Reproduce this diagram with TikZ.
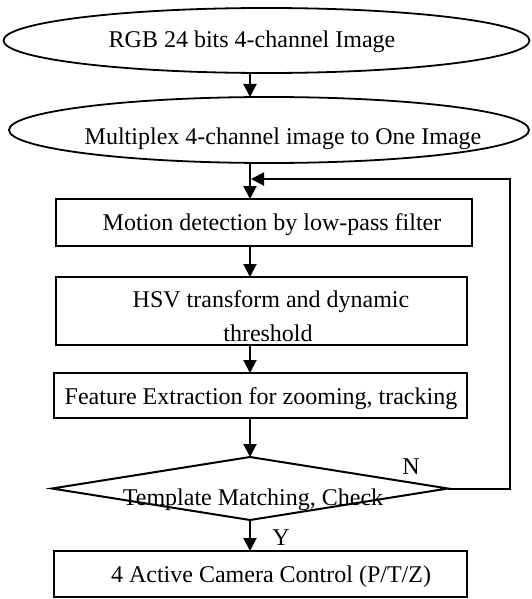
\documentclass[tikz,border=0pt]{standalone}
\usepackage{fontspec}
\setmainfont{Liberation Serif}
\usetikzlibrary{shapes.geometric,arrows.meta}
\begin{document}
\begin{tikzpicture}[x=1pt,y=-1pt,
  shapeline/.style={draw=black,line width=2pt,inner sep=0pt,outer sep=0pt},
  procbox/.style={shapeline,rectangle},
  oval/.style={draw=black,line width=1.8pt,ellipse,inner sep=0pt,outer sep=0pt},
  decision/.style={shapeline,diamond},
  txt/.style={anchor=base,inner sep=0pt,outer sep=0pt,font=\fontsize{24}{28}\selectfont},
  flow/.style={line width=2pt,-{Triangle[length=13pt,width=13pt]}}
]
\useasboundingbox (0,0) rectangle (531,599);
\coordinate (mx) at (250,0);
% shapes
\node[oval,minimum width=526pt,minimum height=65pt] (e1) at (266.5,40.5) {};
\node[oval,minimum width=520pt,minimum height=66pt] (e2) at (269,130) {};
\node[procbox,minimum width=416pt,minimum height=47pt] (b1) at (264,222.5) {};
\node[procbox,minimum width=411pt,minimum height=68pt] (b2) at (261.5,311) {};
\node[procbox,minimum width=413pt,minimum height=45pt] (b3) at (260.5,395.5) {};
\node[decision,minimum width=396pt,minimum height=63pt] (dm) at (250,488.5) {};
\node[procbox,minimum width=413pt,minimum height=46pt] (b4) at (260.5,574) {};
% texts
\node[txt] (t1) at (252,48) {RGB 24 bits 4-channel Image};
\node[txt] (t2) at (283,144) {Multiplex 4-channel image to One Image};
\node[txt] (t3) at (272,230) {Motion detection by low-pass filter};
\node[txt] (t4a) at (271,307) {HSV transform and dynamic};
\node[txt] (t4b) at (268,341) {threshold};
\node[txt] (t5) at (261,404) {Feature Extraction for zooming, tracking};
\node[txt] (t6) at (253,505) {Template Matching, Check};
\node[txt] (t7) at (271,582) {4 Active Camera Control (P/T/Z)};
\node[txt] (lN) at (411,474) {N};
\node[txt] (lY) at (281,545) {Y};
% connectors
\draw[flow] (e1.south -| mx) -- (e2.north -| mx);
\draw[flow] (e2.south -| mx) -- (b1.north -| mx);
\draw[flow] (b1.south -| mx) -- (b2.north -| mx);
\draw[flow] (b2.south -| mx) -- (b3.north -| mx);
\draw[flow] (b3.south -| mx) -- (dm.north);
\draw[flow] (dm.south) -- (b4.north -| dm.south);
\coordinate (fbtop) at (510,179);
\coordinate (join) at (251,179);
\draw[flow] (dm.east) -| (fbtop) -- (join);
\end{tikzpicture}
\end{document}
